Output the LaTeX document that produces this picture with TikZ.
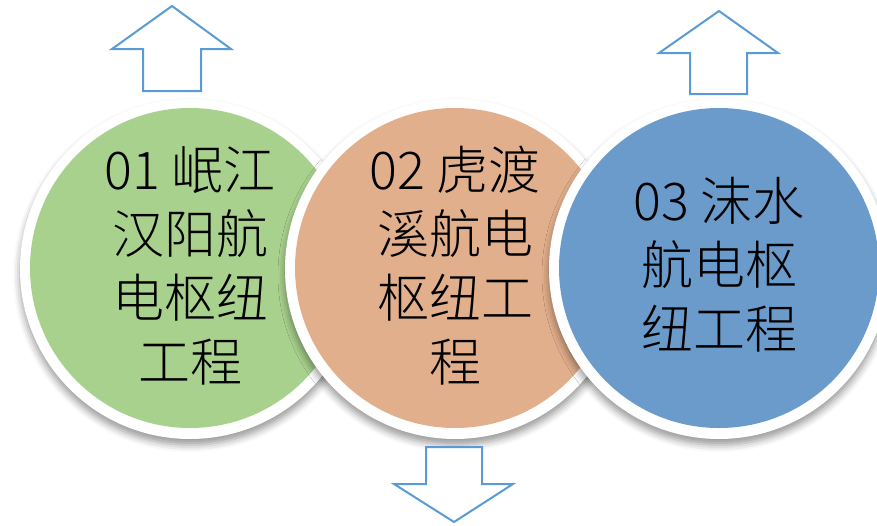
\documentclass[tikz,border=0pt]{standalone}
\usepackage{fontspec}
\newfontfamily\cjk{Noto Sans CJK SC Light}
\usetikzlibrary{shadows.blur}
\definecolor{cgreen}{RGB}{169,209,142}
\definecolor{corange}{RGB}{222,161,120}
\definecolor{cblue}{RGB}{80,138,195}
\definecolor{arrowblue}{RGB}{91,155,213}
\tikzset{
  ring/.style={circle, fill=white, draw=none, minimum size=340pt, inner sep=0pt,
    blur shadow={shadow xshift=0pt, shadow yshift=-6pt, shadow blur radius=7pt, shadow opacity=40}},
  disc/.style={circle, draw=none, minimum size=320pt, inner sep=0pt, fill opacity=0.85},
  disctext/.style={font=\cjk\fontsize{52}{64}\selectfont, align=center, text=black, inner sep=0pt},
  bigarrow/.style={draw=arrowblue, line width=2pt, fill=white, line join=miter}
}
\begin{document}
\begin{tikzpicture}[x=1pt, y=-1pt]
  \useasboundingbox (0,0) rectangle (877,525);
  % green
  \node[ring] (r1) at (190,269) {};
  \node[disc, fill=cgreen, fill opacity=1] (c1) at (190,268) {};
  % orange
  \node[ring] (r2) at (455,269) {};
  \node[disc, fill=corange] (c2) at (455,268) {};
  % blue
  \node[ring] (r3) at (719,269) {};
  \node[disc, fill=cblue] (c3) at (719,268) {};
  % texts
  \node[disctext] (t1) at (190,266) {01 岷江\\汉阳航\\电枢纽\\工程};
  \node[disctext] (t2) at (455,266) {02 虎渡\\溪航电\\枢纽工\\程};
  \node[disctext] (t3) at (719,265) {03 沫水\\航电枢\\纽工程};
  % arrows
  \draw[bigarrow] (172,6) -- (231,49) -- (201,49) -- (201,91) -- (143,91) -- (143,49) -- (112,49) -- cycle;
  \draw[bigarrow] (719,11) -- (778,53) -- (747,53) -- (747,94) -- (690,94) -- (690,53) -- (659,53) -- cycle;
  \draw[bigarrow] (454,522) -- (513,484) -- (482,484) -- (482,447) -- (426,447) -- (426,484) -- (394,484) -- cycle;
\end{tikzpicture}
\end{document}
